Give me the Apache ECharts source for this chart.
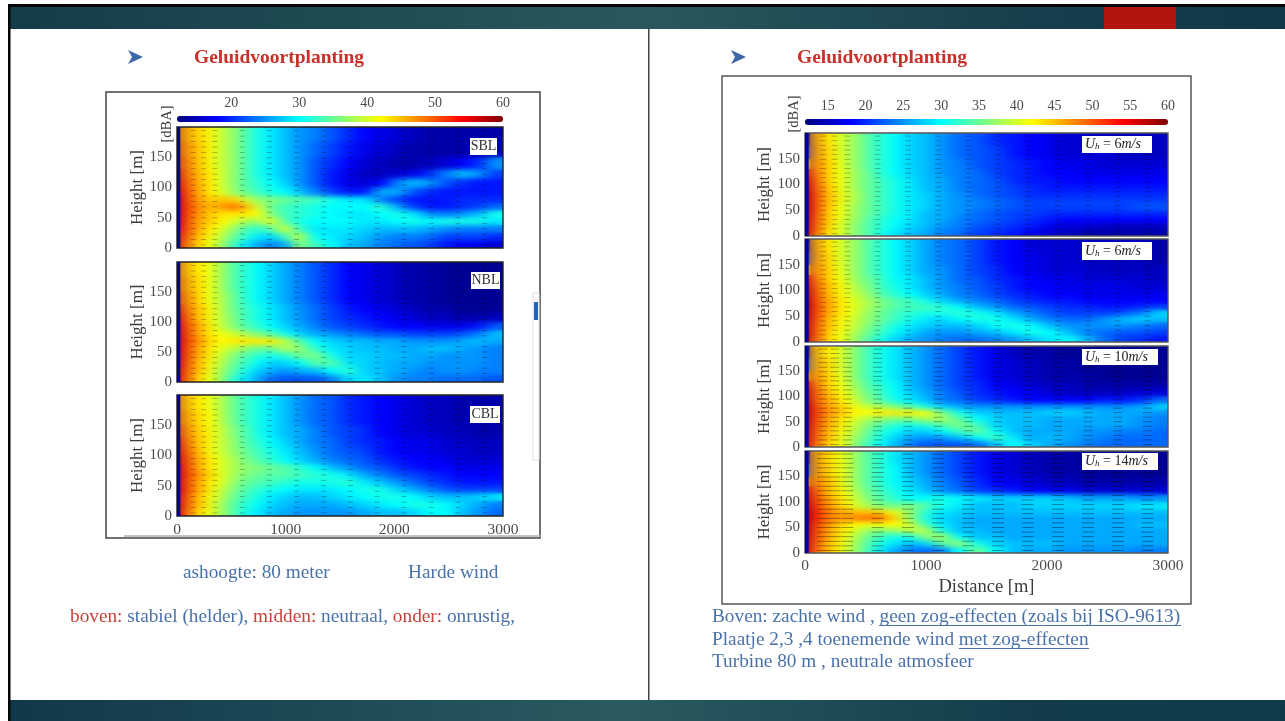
<!DOCTYPE html>
<html><head><meta charset="utf-8">
<style>
html,body{margin:0;padding:0;background:#fff;overflow:hidden}
#wrap{position:relative;width:1285px;height:721px;filter:blur(0.45px)}
.layer{position:absolute;left:0;top:0;width:1285px;height:721px}
#smooth{filter:url(#soft)}
</style>
<script src="https://cdn.jsdelivr.net/npm/echarts@6/dist/echarts.min.js"></script>
</head><body>
<svg width="0" height="0" style="position:absolute"><filter id="soft" x="0" y="0" width="100%" height="100%" color-interpolation-filters="sRGB"><feGaussianBlur stdDeviation="7 2.8"/></filter></svg>
<div id="wrap">
<div id="base" class="layer"></div>
<div id="smooth" class="layer"></div>
<div id="top" class="layer"></div>
</div>
<script>
// Sound level in dBA, rows from the top of each panel (height 200 m) to the ground, columns from the source outward.
const distanceEdges=[0,25,45,80,120,170,230,300,380,470,570,680,800,930,1060,1200,1350,1500,1650,1800,1950,2100,2250,2400,2550,2700,2850,3000];
const heightEdges=[200,175,150,130,115,100,86,74,62,50,38,25,12,0];
const sblValues=[
[13,47,47,46,45,44,43,41,39,37,34,31,29,27,25,24,22,20,18,17,16,15,14,14,14,14,14],
[13,48,48,47,46,45,43,41,39,37,34,31,29,27,25,23,21,19,17,16,15,14,14,14,14,14,15],
[13,50,49,48,46,45,43,41,39,37,34,31,29,27,25,22,20,18,16,15,14,14,15,16,18,20,25],
[13,52,50,48,47,45,44,42,39,37,34,31,29,27,25,22,19,17,15,15,16,17,20,24,27,25,21],
[13,54,51,49,47,46,44,42,39,37,34,32,30,28,25,22,19,17,16,18,24,27,25,22,20,19,19],
[13,55,52,50,48,46,44,42,40,37,35,33,31,30,27,24,21,19,19,26,26,22,20,19,19,19,19],
[13,56,53,50,48,47,45,44,45,44,40,37,36,35,34,33,31,29,29,24,21,19,19,19,20,20,20],
[13,56,53,51,49,47,46,45,47,49,46,40,35,33,32,31,30,30,30,32,26,21,19,19,20,21,23],
[13,55,53,51,48,47,45,44,43,43,43,42,36,33,32,31,30,29,29,30,31,29,25,24,25,27,31],
[13,55,53,50,48,46,45,44,42,40,38,37,41,34,31,30,30,30,29,29,30,31,30,31,31,31,29],
[13,54,52,50,48,46,44,42,40,37,34,32,34,40,33,29,29,29,28,27,27,27,26,25,24,24,24],
[13,53,51,49,47,45,43,41,38,35,32,29,28,33,39,30,29,28,27,25,24,24,23,21,21,21,20],
[13,52,50,48,46,44,42,40,37,33,29,26,24,26,36,33,30,27,26,24,23,22,21,19,18,17,16]];
const nblValues=[
[13,47,46,45,44,43,42,40,37,34,32,30,28,26,24,22,20,18,17,16,15,14,14,13,13,13,13],
[13,48,47,46,45,44,42,40,37,34,32,30,28,26,24,22,20,18,17,16,15,14,14,13,13,13,13],
[13,50,48,47,46,44,42,40,38,35,32,30,28,26,24,22,20,18,17,16,15,14,14,13,13,13,13],
[13,52,50,48,46,45,43,41,38,35,33,31,29,27,25,23,21,19,18,17,16,15,14,14,13,13,13],
[13,55,51,49,47,45,43,41,38,36,33,31,29,27,25,23,21,20,19,18,17,16,15,15,14,14,15],
[13,56,52,50,48,46,44,41,39,36,34,32,30,28,26,24,22,21,20,19,18,18,17,17,17,19,22],
[13,57,53,50,48,46,44,42,41,40,38,36,34,31,28,26,25,24,23,22,22,21,21,21,22,24,27],
[13,57,53,51,49,47,45,43,42,43,43,43,43,39,34,30,28,27,27,26,26,25,25,25,26,27,26],
[13,56,53,50,48,46,44,42,40,39,37,35,35,38,37,32,29,28,27,27,26,26,27,27,26,25,24],
[13,56,53,50,48,46,44,41,39,36,34,32,31,32,35,36,31,28,28,27,27,26,26,25,25,25,24],
[13,55,52,50,47,45,43,41,38,35,33,30,28,28,30,34,34,29,28,27,26,26,25,25,25,25,24],
[13,55,52,49,47,45,43,40,37,34,31,28,26,25,26,27,30,32,28,27,26,25,24,25,25,24,24],
[13,54,51,49,46,44,42,40,36,32,29,26,23,22,22,22,24,28,29,27,25,24,24,23,23,23,22]];
const cblValues=[
[13,47,46,45,44,43,42,40,38,35,33,31,29,27,25,23,22,20,19,18,17,16,15,15,14,14,14],
[13,48,47,46,45,44,42,41,38,35,33,31,29,27,25,23,22,20,19,18,17,16,15,15,14,14,14],
[13,50,49,47,46,44,43,41,39,36,34,31,29,27,26,24,22,21,20,18,17,16,16,15,15,14,14],
[13,53,50,48,46,45,43,41,39,37,34,32,30,28,26,24,23,21,20,19,18,17,17,16,15,15,15],
[13,55,51,49,47,45,43,41,39,37,35,33,31,29,27,25,23,22,21,19,18,17,17,16,16,15,15],
[13,56,52,50,48,46,44,42,40,38,36,34,32,30,28,26,24,23,22,20,19,18,18,17,16,16,16],
[13,57,53,50,48,46,44,42,40,38,37,36,35,34,32,30,27,25,23,22,20,19,18,18,17,17,17],
[13,57,53,51,49,47,45,43,40,38,36,35,34,34,33,32,31,29,26,24,22,21,20,19,18,18,18],
[13,56,53,50,48,46,44,42,40,37,35,34,33,32,31,31,31,32,29,27,25,23,21,20,19,19,19],
[13,56,53,50,48,46,44,41,39,36,34,32,31,30,29,29,29,30,31,31,28,26,24,22,21,21,21],
[13,55,52,50,47,45,43,41,38,35,33,31,29,28,27,27,28,29,30,31,31,30,28,27,27,28,29],
[13,55,52,49,47,45,43,40,37,34,32,30,28,27,26,26,26,27,28,29,30,31,31,30,28,26,24],
[13,54,51,49,46,44,42,40,37,34,31,29,27,26,25,25,25,25,26,27,27,28,30,30,27,25,23]];
const wind6aValues=[
[13,14,47,46,45,43,41,39,37,34,32,30,28,27,25,23,22,20,19,18,17,16,16,15,15,15,15],
[13,22,48,47,45,44,41,39,37,34,32,30,28,27,25,23,22,21,19,18,17,16,16,16,15,15,15],
[13,40,49,48,46,44,42,39,37,34,32,30,28,27,25,24,22,21,20,19,18,17,17,16,16,16,16],
[13,52,50,48,46,44,42,40,37,35,32,30,28,27,25,24,23,21,20,19,18,18,17,17,17,17,17],
[13,55,51,49,46,44,42,40,37,35,33,31,29,27,26,24,23,22,20,19,19,18,18,18,18,18,18],
[13,57,52,49,47,45,42,40,37,35,33,31,29,27,26,24,23,22,21,20,19,19,19,19,19,19,19],
[13,58,53,50,47,45,43,40,38,35,33,31,29,28,26,25,23,22,21,20,20,20,20,20,20,20,20],
[13,58,53,50,47,45,43,40,38,35,33,31,29,28,26,25,24,23,22,21,21,21,21,21,21,21,21],
[13,58,53,50,47,45,42,40,37,35,33,31,29,28,26,25,24,23,22,21,21,21,21,21,21,22,22],
[13,57,53,49,47,44,42,40,37,35,33,31,29,27,26,25,23,22,21,21,20,20,20,20,20,20,20],
[13,57,52,49,47,44,42,39,37,34,32,30,29,27,26,24,23,22,21,20,19,18,18,18,18,18,18],
[13,56,52,49,46,44,41,39,36,34,32,30,28,27,25,24,22,21,20,19,17,16,16,15,15,15,15],
[13,55,51,48,46,43,41,39,36,34,31,29,27,26,24,23,21,20,19,17,16,15,14,14,14,14,14]];
const wind6bValues=[
[13,14,47,46,45,43,41,39,37,34,32,30,28,26,24,23,21,19,18,16,16,16,15,15,15,15,14],
[13,22,48,47,45,44,41,39,37,34,32,30,28,26,24,23,21,19,18,17,16,16,15,15,15,15,14],
[13,42,49,48,46,44,42,39,37,34,32,30,28,26,25,23,21,20,18,17,16,16,16,15,15,15,15],
[13,54,50,48,46,44,42,40,37,35,33,30,29,27,25,23,22,20,19,18,17,17,16,16,16,16,15],
[13,57,51,49,47,45,43,41,38,36,33,31,29,27,25,24,22,21,19,18,18,17,17,17,17,16,16],
[13,58,52,50,47,45,43,41,39,37,34,32,30,28,26,24,23,21,20,19,18,18,17,17,17,17,17],
[13,59,53,50,48,46,44,42,40,38,36,34,33,31,28,26,24,23,21,20,19,19,18,18,18,18,18],
[13,59,53,51,48,46,44,42,40,38,36,34,33,33,32,30,27,25,23,22,21,20,20,19,19,20,21],
[13,58,53,50,48,46,44,42,40,37,35,33,32,31,31,32,31,29,26,24,22,21,21,21,22,24,28],
[13,58,53,50,47,45,43,41,39,37,35,33,31,29,28,30,31,31,29,26,24,23,23,25,27,28,27],
[13,57,52,49,47,45,43,41,39,36,34,31,29,28,27,27,28,30,31,30,27,25,25,25,25,24,23],
[13,57,52,49,47,44,42,40,38,35,33,30,28,26,25,25,26,27,29,31,30,27,24,23,22,22,21],
[13,56,51,49,46,44,42,40,37,34,31,28,26,25,24,23,23,24,25,27,29,30,27,23,21,20,19]];
const wind10Values=[
[13,14,46,45,44,43,41,39,36,33,31,29,27,25,23,21,19,17,15,14,14,13,13,13,13,13,13],
[13,24,47,46,45,44,41,39,36,33,31,29,27,25,23,21,19,17,16,15,14,14,13,13,13,13,13],
[13,44,48,47,46,44,42,39,36,33,31,29,27,25,23,21,19,17,16,15,14,14,14,13,13,13,13],
[13,54,50,48,46,44,42,40,37,34,32,30,27,25,23,21,20,18,17,16,15,15,14,14,14,14,14],
[13,57,51,49,47,45,43,41,38,35,33,30,28,26,24,22,20,19,18,17,16,15,15,15,15,16,16],
[13,58,52,49,47,46,44,42,39,36,34,31,29,27,24,23,21,20,19,18,18,18,18,19,19,20,23],
[13,59,53,50,48,46,45,43,41,39,38,36,34,31,28,26,25,25,25,25,25,25,25,25,25,26,28],
[13,59,53,51,49,47,46,44,42,42,43,43,43,42,36,31,28,27,27,27,28,28,27,26,26,26,25],
[13,58,53,50,48,46,44,42,40,38,37,36,36,38,38,34,30,28,27,27,26,26,26,26,26,25,24],
[13,58,52,50,48,46,44,41,39,36,34,32,31,32,34,36,33,28,27,27,26,26,26,26,26,25,24],
[13,57,52,49,47,45,43,41,38,35,32,30,28,28,30,33,35,30,27,26,26,26,25,25,24,24,23],
[13,56,52,49,47,45,43,40,37,34,31,28,26,25,25,27,30,33,29,26,27,26,25,24,23,23,23],
[13,55,51,48,46,44,42,40,36,33,30,27,24,22,22,22,23,27,30,28,26,25,24,23,23,23,23]];
const wind14Values=[
[13,14,47,46,45,44,42,40,37,34,32,29,27,25,23,21,19,17,16,15,14,14,13,13,13,13,13],
[13,24,48,47,46,44,42,40,37,34,32,30,27,25,23,21,19,17,16,15,14,14,13,13,13,13,13],
[13,44,49,48,47,45,43,40,37,34,32,30,28,26,24,22,20,18,17,16,15,15,14,14,14,14,14],
[13,54,51,49,47,45,43,41,38,35,33,31,29,27,25,23,21,20,19,18,17,17,16,16,16,16,16],
[13,57,52,50,48,46,44,42,39,36,34,32,30,30,31,30,29,28,28,28,28,27,26,26,26,25,25],
[13,58,53,51,49,47,45,43,40,38,36,35,36,34,31,29,27,27,27,28,28,28,28,28,28,29,29],
[13,59,54,52,50,48,46,46,45,45,44,41,37,32,29,28,27,27,27,27,27,27,27,27,27,27,27],
[13,59,54,52,50,48,47,47,48,49,49,44,37,31,28,27,26,26,26,26,26,26,26,26,26,26,26],
[13,58,53,51,49,47,45,43,42,41,42,42,40,33,29,27,26,26,26,26,26,26,26,26,26,27,27],
[13,58,53,50,48,46,44,42,40,37,36,37,39,39,31,27,27,26,26,26,26,26,26,26,26,26,26],
[13,57,52,50,48,46,44,41,38,35,33,31,31,36,38,30,27,27,26,26,26,26,26,26,26,26,26],
[13,56,52,49,47,45,43,41,37,34,31,29,27,28,34,37,31,28,27,27,27,26,26,26,26,26,26],
[13,55,51,49,47,45,43,40,37,33,29,26,24,23,24,30,35,30,27,26,26,25,25,25,25,24,24]];
const quiverDistances=[150,245,350,600,850,1100,1350,1595,1840,2090,2340,2585,2830];
const quiverHeights=[5,14,23,32,41,50,59,68,77,86,95,104,113,122,131,140,149,158,167,176,185,194];
const leftBarTicks=[20,30,40,50,60];
const rightBarTicks=[15,20,25,30,35,40,45,50,55,60];
const heightTicks=[0,50,100,150];
const distanceTicks=[0,1000,2000,3000];

const SERIF='"Liberation Serif",serif';
const JET=['#00007f','#0000ff','#007fff','#00ffff','#7fff7f','#ffff00','#ff7f00','#ff0000','#7f0000'];
const panels=[
 {v:sblValues,side:0,l:177,r:503,t:127,b:248,sym:[5,.8],op:.32,lab:'SBL',box:[470,138,27,17]},
 {v:nblValues,side:0,l:177,r:503,t:262,b:382,sym:[5,.8],op:.32,lab:'NBL',box:[471,272,29,17]},
 {v:cblValues,side:0,l:177,r:503,t:395,b:516,sym:[5,.8],op:.32,lab:'CBL',box:[470,406,30,17],bottom:1},
 {v:wind6aValues,side:1,l:805,r:1168,t:133,b:236,sym:[6,.8],op:.32,wind:'6',box:[1082,136,70,17]},
 {v:wind6bValues,side:1,l:805,r:1168,t:239,b:342,sym:[6,.8],op:.32,wind:'6',box:[1082,242,70,18]},
 {v:wind10Values,side:1,l:805,r:1168,t:346,b:447,sym:[9,.8],op:.4,wind:'10',box:[1082,349,76,16]},
 {v:wind14Values,side:1,l:805,r:1168,t:451,b:553,sym:[12,.8],op:.45,wind:'14',box:[1082,453,76,17],bottom:1}
];
document.getElementById('smooth').style.clipPath="path('"+panels.map(p=>`M${p.l} ${p.t}H${p.r}V${p.b}H${p.l}Z`).join(' ')+"')";

function cells(m,onlyFirst){
 const out=[];
 m.forEach((row,ri)=>row.forEach((val,ci)=>{
  if(onlyFirst&&ci>0)return;
  out.push([distanceEdges[ci],distanceEdges[ci+1],heightEdges[ri+1],heightEdges[ri],val]);
 }));
 return out;
}
function renderCell(params,api){
 const a=api.coord([api.value(0),api.value(3)]),b=api.coord([api.value(1),api.value(2)]);
 return {type:'rect',shape:{x:a[0],y:a[1],width:b[0]-a[0]+.6,height:b[1]-a[1]+.6},style:{fill:api.visual('color')}};
}
function heatSeries(p,i,onlyFirst){
 return {type:'custom',xAxisIndex:i,yAxisIndex:i,renderItem:renderCell,clip:true,silent:true,
  encode:{x:[0,1],y:[2,3]},data:cells(p.v,onlyFirst),animation:false,progressive:0};
}
function grids(){return panels.map(p=>({left:p.l,top:p.t,width:p.r-p.l,height:p.b-p.t,containLabel:false}));}
function plainX(){return panels.map((p,i)=>({gridIndex:i,type:'value',min:0,max:3000,interval:1000,show:false}));}
function plainY(){return panels.map((p,i)=>({gridIndex:i,type:'value',min:0,max:200,interval:50,show:false}));}
function maps(seriesL,seriesR,show){
 return [
  {type:'continuous',show,orient:'horizontal',min:12,max:60,dimension:4,seriesIndex:seriesL,left:177,top:116,itemWidth:6,itemHeight:326,padding:0,showLabel:false,text:null,calculable:false,inRange:{color:JET}},
  {type:'continuous',show,orient:'horizontal',min:12,max:60,dimension:4,seriesIndex:seriesR,left:805,top:119,itemWidth:6,itemHeight:363,padding:0,showLabel:false,text:null,calculable:false,inRange:{color:JET}}
 ];
}
function txt(x,y,text,o){
 return {type:'text',x,y,silent:true,z:o.z||5,rotation:o.rot||0,style:Object.assign({text,fontFamily:SERIF,fontSize:19.3,fill:'#4a72aa',verticalAlign:'middle',align:'left'},o)};
}
function rect(x,y,w,h,fill,z){return {type:'rect',silent:true,z:z||1,shape:{x,y,width:w,height:h},style:{fill}};}
function band(c){return {type:'linear',x:0,y:0,x2:1,y2:0,colorStops:c};}
const BLUE='#4a72aa',RED='#c8403a',TITLE='#c8302a';
function arrow(x,y){
 return {type:'polygon',silent:true,z:4,shape:{points:[[x,y-7],[x+15,y],[x,y+7],[x+4,y]]},style:{fill:'#3a68a8'}};
}
const rich={r:{fill:RED,fontFamily:SERIF,fontSize:19.3},b:{fill:BLUE,fontFamily:SERIF,fontSize:19.3}};
const chrome=[
 rect(8,4,1277,3,'#050505',3),rect(8,4,2.5,717,'#050505',3),
 rect(10,7,1275,22,band([{offset:0,color:'#143c48'},{offset:.5,color:'#28585c'},{offset:.8,color:'#163e4c'},{offset:1,color:'#0f3848'}]),2),
 rect(1104,7,72,22,'#b01510',3),
 rect(10,700,1275,21,band([{offset:0,color:'#10384a'},{offset:.48,color:'#2a5a60'},{offset:.8,color:'#123c4a'},{offset:1,color:'#0e3a4a'}]),2),
 rect(648,29,1.5,671,'#444',2),
 {type:'rect',silent:true,z:2,shape:{x:106,y:92,width:434,height:446},style:{fill:'none',stroke:'#444',lineWidth:1.5}},
 rect(124,535,416,2,'#c4c4c4',3),
 {type:'rect',silent:true,z:2,shape:{x:722,y:76,width:469,height:528},style:{fill:'none',stroke:'#555',lineWidth:1.5}},
 {type:'rect',silent:true,z:3,shape:{x:533,y:293,width:6,height:167},style:{fill:'#fff',stroke:'#e2e2e2',lineWidth:1}},
 rect(534,302,4,18,'#2462c4',4),
 arrow(128,57),arrow(731,57),
 txt(194,57.5,'Geluidvoortplanting',{fontSize:19.5,fontWeight:'bold',fill:TITLE}),
 txt(797,57.5,'Geluidvoortplanting',{fontSize:19.5,fontWeight:'bold',fill:TITLE}),
 txt(183,573,'ashoogte: 80 meter',{}),
 txt(408,573,'Harde wind',{}),
 txt(70,617,'{r|boven:} {b|stabiel (helder),} {r|midden:} {b|neutraal,} {r|onder:} {b|onrustig,}',{rich}),
 txt(712,617,'Boven: zachte wind , geen zog-effecten (zoals bij ISO-9613)',{}),
 txt(712,640,'Plaatje 2,3 ,4 toenemende wind met zog-effecten',{}),
 txt(712,662,'Turbine 80 m , neutrale atmosfeer',{}),
 rect(879,625,302,1,BLUE,5),rect(959,648,130,1,BLUE,5)
];

const base=echarts.init(document.getElementById('base'),null,{renderer:'canvas'});
base.setOption({animation:false,backgroundColor:'#fff',grid:grids(),xAxis:plainX(),yAxis:plainY(),
 visualMap:maps([0,1,2],[3,4,5,6],true),
 series:panels.map((p,i)=>heatSeries(p,i)),graphic:chrome});

const smooth=echarts.init(document.getElementById('smooth'),null,{renderer:'canvas'});
smooth.setOption({animation:false,grid:grids(),xAxis:plainX(),yAxis:plainY(),
 visualMap:maps([0,1,2],[3,4,5,6],false),
 series:panels.map((p,i)=>heatSeries(p,i))});

// top layer: frames, axes, wind arrows, labels
const topGrids=panels.map(p=>({left:p.l,top:p.t,width:p.r-p.l,height:p.b-p.t,show:true,backgroundColor:'transparent',borderColor:p.side?'#555':'#222',borderWidth:1.4}));
topGrids.push({left:177,top:116,width:326,height:6},{left:805,top:119,width:363,height:6});
const labelStyle={fontFamily:SERIF,color:'#4c4c4c'};
const plain=v=>String(v);
const topX=panels.map((p,i)=>({gridIndex:i,type:'value',min:0,max:3000,interval:1000,axisLine:{show:false},axisTick:{show:false},splitLine:{show:false},
  axisLabel:{show:!!p.bottom,margin:p.side?5:6,fontSize:15.5,...labelStyle,customValues:distanceTicks,formatter:plain},
  name:(p.bottom&&p.side)?'Distance [m]':'',nameLocation:'middle',nameGap:25,nameTextStyle:{fontFamily:SERIF,fontSize:18.5,color:'#3c3c3c'}}));
topX.push(
 {gridIndex:7,type:'value',min:12,max:60,position:'top',axisLine:{show:false},splitLine:{show:false},axisTick:{show:false},axisLabel:{margin:6,fontSize:14,...labelStyle,customValues:leftBarTicks}},
 {gridIndex:8,type:'value',min:12,max:60,position:'top',axisLine:{show:false},splitLine:{show:false},axisTick:{show:false},axisLabel:{margin:6,fontSize:14,...labelStyle,customValues:rightBarTicks}});
const topY=panels.map((p,i)=>({gridIndex:i,type:'value',min:0,max:200,interval:50,axisLine:{show:false},axisTick:{show:false},splitLine:{show:false},
  axisLabel:{margin:5,fontSize:15,...labelStyle,customValues:heightTicks},
  name:'Height [m]',nameLocation:'middle',nameGap:p.side?32:29,nameTextStyle:{fontFamily:SERIF,fontSize:17,color:'#3c3c3c'}}));
topY.push({gridIndex:7,type:'value',show:false,min:0,max:1},{gridIndex:8,type:'value',show:false,min:0,max:1});
const quiver=panels.map((p,i)=>{
 const d=[];quiverDistances.forEach(x=>quiverHeights.forEach(h=>d.push([x,h])));
 return {type:'scatter',xAxisIndex:i,yAxisIndex:i,symbol:'rect',symbolSize:p.sym,silent:true,animation:false,itemStyle:{color:'#000',opacity:p.op},data:d,z:3};
});
const strip=panels.map((p,i)=>heatSeries(p,i,true));
const labels=[
 txt(167,124,'[dBA]',{rot:Math.PI/2,align:'center',fontSize:14.5,fill:'#3c3c3c',z:6}),
 txt(794,114,'[dBA]',{rot:Math.PI/2,align:'center',fontSize:14.5,fill:'#3c3c3c',z:6})
];
panels.forEach(p=>{
 const [x,y,w,h]=p.box;
 labels.push(rect(x,y,w,h,'#fff',8));
 if(p.lab){labels.push(txt(x+w/2,y+h/2,p.lab,{align:'center',fontSize:14,fill:'#333',z:9}));}
 else{
  const rr={i:{fontFamily:SERIF,fontStyle:'italic',fontSize:14,fill:'#222'},s:{fontFamily:SERIF,fontStyle:'italic',fontSize:9,fill:'#222',padding:[5,0,0,0]},n:{fontFamily:SERIF,fontSize:14,fill:'#222'}};
  labels.push(txt(x+3,y+h/2,`{i|U}{s|h}{n| = ${p.wind}}{i|m/s}`,{rich:rr,z:9}));
 }
});
const topChart=echarts.init(document.getElementById('top'),null,{renderer:'canvas'});
topChart.setOption({animation:false,backgroundColor:'transparent',grid:topGrids,xAxis:topX,yAxis:topY,
 visualMap:[{type:'continuous',show:false,min:12,max:60,dimension:4,seriesIndex:panels.map((p,i)=>i),inRange:{color:JET}}],
 series:[...strip,...quiver],graphic:labels});
</script>
</body></html>
